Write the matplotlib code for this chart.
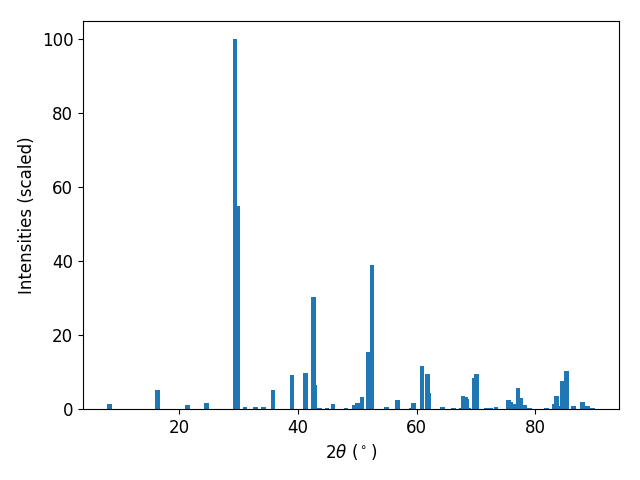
import matplotlib
matplotlib.use("Agg")
import matplotlib.pyplot as plt

two_theta = [8.3, 16.4, 21.4, 24.6, 29.4, 29.9, 31.1, 32.9, 34.2, 35.8,
             39.0, 41.3, 42.65, 42.9, 43.7, 44.9, 45.9, 48.1, 49.5, 50.0,
             50.8, 51.8, 52.5, 54.9, 56.8, 59.1, 59.5, 60.9, 61.8, 62.1,
             64.4, 66.2, 67.6, 67.8, 68.2, 68.5, 68.7, 69.8, 70.1, 71.7,
             72.4, 73.4, 75.5, 75.8, 76.5, 77.1, 77.6, 78.2, 79.0, 81.9,
             83.2, 83.6, 84.2, 84.6, 85.3, 86.4, 87.9, 88.8, 89.6]
intensity = [1.3, 5.1, 1.1, 1.6, 100.0, 55.0, 0.6, 0.6, 0.6, 5.1,
             9.2, 9.7, 30.3, 6.5, 0.3, 0.3, 1.3, 0.3, 1.1, 1.6,
             3.2, 15.4, 39.0, 0.6, 2.4, 0.3, 1.6, 11.6, 9.5, 4.3,
             0.6, 0.3, 0.4, 3.5, 3.2, 2.7, 0.3, 8.4, 9.5, 0.3,
             0.3, 0.6, 2.4, 1.9, 1.3, 5.7, 3.0, 1.1, 0.3, 0.3,
             1.3, 3.5, 0.8, 7.6, 10.3, 0.8, 1.9, 0.8, 0.3]

plt.rcParams["font.size"] = 12
fig, ax = plt.subplots(figsize=(6.4, 4.8), dpi=100)
ax.bar(two_theta, intensity, width=0.8, color="#1f77b4")
ax.set_xlabel(r"$2\theta$ ($^\circ$)")
ax.set_ylabel("Intensities (scaled)")
fig.subplots_adjust(left=83 / 640, right=619 / 640, top=1 - 21 / 480, bottom=1 - 409 / 480)
fig.savefig("out.png")
